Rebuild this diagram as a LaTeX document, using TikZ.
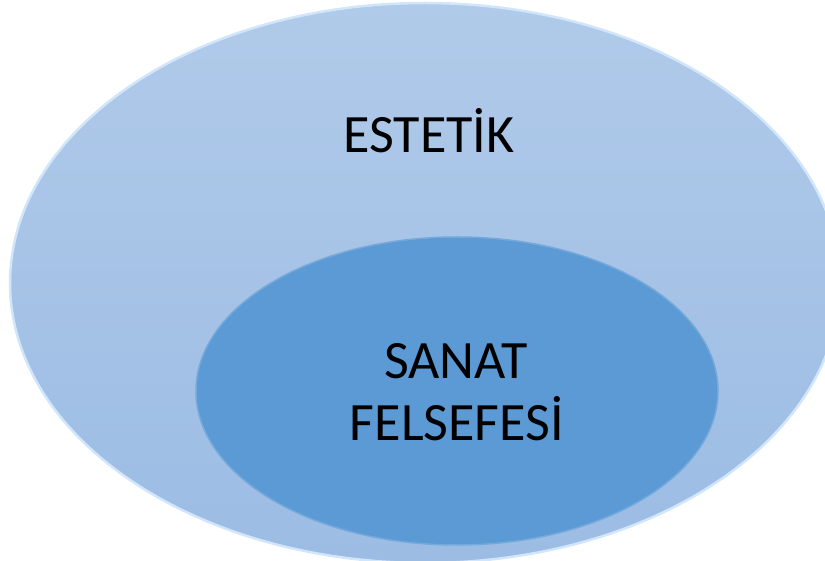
\documentclass[tikz,border=0pt]{standalone}
\usepackage{fontspec}
\setmainfont{Carlito}
\usetikzlibrary{shapes.geometric, positioning}

\definecolor{outerblue}{HTML}{A9C4E6}
\definecolor{outertop}{HTML}{B0CAE9}
\definecolor{outerbot}{HTML}{9CBCE4}
\definecolor{innerblue}{HTML}{5B9AD5}
\definecolor{rimblue}{HTML}{D2E6FB}

\tikzset{
  circle set/.style={ellipse, inner sep=0pt, outer sep=0pt},
  set label/.style={font=\fontsize{54}{65}\selectfont, anchor=base, inner sep=0pt, text=black}
}

\begin{document}
\begin{tikzpicture}[x=1pt, y=-1pt]
    \useasboundingbox (0,0) rectangle (825,561);
    \node[circle set, top color=outertop, bottom color=outerbot, draw=rimblue, line width=2.5pt,
          minimum width=830pt, minimum height=560pt] (estetik) at (425,283) {};
    \node[circle set, fill=innerblue, draw=innerblue!85!white, line width=1.5pt,
          minimum width=522pt, minimum height=308pt] (sanat) at (457,391) {};
    \node[set label] (estetiklabel) at (429,153) {ESTETİK};
    \node[set label] (sanatlabel) at (456,378) {SANAT};
    \node[set label] (felsefelabel) at (457,440) {FELSEFESİ};
\end{tikzpicture}
\end{document}
